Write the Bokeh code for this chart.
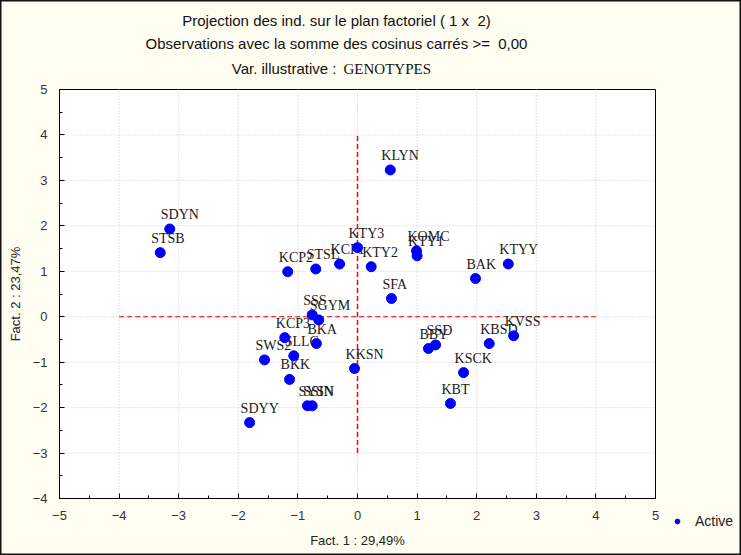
from bokeh.plotting import figure
from bokeh.models import (FixedTicker, ColumnDataSource, Range1d, Label, Legend, LegendItem)
from bokeh.core.properties import value
from bokeh.embed import file_html
from bokeh.resources import INLINE

names = ["KLYN", "SDYN", "STSB", "KCP2", "STSL", "KCP1", "KTY3", "KTY2", "KOMC", "KTY1",
         "BAK", "KTYY", "SFA", "SSS", "SGYM", "KCP3", "BKA", "SLLC", "SWS2", "BKK",
         "KKSN", "SYSN", "SSIN", "SDYY", "BBY", "SSD", "KBSD", "KVSS", "KSCK", "KBT"]
fact1 = [0.55, -3.15, -3.31, -1.17, -0.70, -0.30, 0.00, 0.23, 0.99, 1.00,
         1.98, 2.53, 0.57, -0.76, -0.65, -1.22, -0.69, -1.07, -1.56, -1.14,
         -0.05, -0.84, -0.76, -1.81, 1.19, 1.31, 2.21, 2.62, 1.78, 1.56]
fact2 = [3.23, 1.93, 1.41, 0.99, 1.05, 1.16, 1.52, 1.10, 1.45, 1.34,
         0.84, 1.16, 0.40, 0.04, -0.07, -0.46, -0.59, -0.86, -0.95, -1.38,
         -1.14, -1.96, -1.96, -2.33, -0.70, -0.62, -0.59, -0.42, -1.23, -1.91]

x_ticks = [-5, -4, -3, -2, -1, 0, 1, 2, 3, 4, 5]
y_ticks = [-4, -3, -2, -1, 0, 1, 2, 3, 4, 5]
title_line1 = "Projection des ind. sur le plan factoriel (\u00a01 x \u00a02)"
title_line2 = "Observations avec la somme des cosinus carrés >=\u00a0 0,00"
title_line3_head = "Var. illustrative :"
title_line3_var = "GENOTYPES"
x_label = "Fact. 1 : 29,49%"
y_label = "Fact. 2 : 23,47%"
legend_label = "Active"

# ---- layout (pixels) ----
W, H = 741, 555
PL, PR, PT, PB = 59, 655, 89, 498          # plot-area box on the canvas
xmin, xmax = x_ticks[0], x_ticks[-1]
ymin, ymax = y_ticks[0], y_ticks[-1]
sx = (PR - PL) / (xmax - xmin)
sy = (PB - PT) / (ymax - ymin)
x_rng = Range1d(xmin - PL / sx, xmax + (W - PR) / sx)
y_rng = Range1d(ymin - (H - PB) / sy, ymax + PT / sy)

p = figure(width=W, height=H, output_backend="svg", toolbar_location=None,
           x_range=x_rng, y_range=y_rng,
           min_border_left=0, min_border_right=0, min_border_top=0, min_border_bottom=0)
p.background_fill_color = "#FFFDF2"
p.border_fill_color = "#FFFDF2"
p.outline_line_color = "#111111"
p.outline_line_width = 2
p.grid.visible = False

# white plot area with black frame
p.quad(left=[xmin], right=[xmax], bottom=[ymin], top=[ymax],
       fill_color="white", line_color="black", line_width=1)

# dotted grid at the ticks
p.segment(x0=x_ticks[1:-1], y0=[ymin] * (len(x_ticks) - 2), x1=x_ticks[1:-1], y1=[ymax] * (len(x_ticks) - 2),
          line_color="#c8c8c8", line_dash="1 2", line_width=1)
p.segment(x0=[xmin] * (len(y_ticks) - 2), y0=y_ticks[1:-1], x1=[xmax] * (len(y_ticks) - 2), y1=y_ticks[1:-1],
          line_color="#c8c8c8", line_dash="1 2", line_width=1)

# axes drawn at the edges of the plot area
xa, ya = p.xaxis[0], p.yaxis[0]
xa.fixed_location = ymin
xa.bounds = (xmin, xmax)
ya.fixed_location = xmin
ya.bounds = (ymin, ymax)
for ax in (xa, ya):
    ax.axis_line_color = "black"
    ax.major_tick_in = 5
    ax.major_tick_out = 0
    ax.minor_tick_in = 3
    ax.minor_tick_out = 0
    ax.major_tick_line_color = "black"
    ax.minor_tick_line_color = "black"
    ax.major_label_text_font = "Liberation Sans"
    ax.major_label_text_font_size = "13px"
    ax.major_label_text_color = "#333333"
    ax.axis_label_text_font = "Liberation Sans"
    ax.axis_label_text_font_size = "13px"
    ax.axis_label_text_font_style = "normal"
    ax.axis_label_text_color = "#222222"
xa.ticker = FixedTicker(ticks=x_ticks, minor_ticks=[t + 0.5 for t in x_ticks[:-1]])
ya.ticker = FixedTicker(ticks=y_ticks, minor_ticks=[t + 0.5 for t in y_ticks[:-1]])
xa.axis_label = x_label
ya.axis_label = y_label
xa.major_label_standoff = 12
ya.major_label_standoff = 12
xa.axis_label_standoff = 10
ya.axis_label_standoff = 7

# reference cross at origin
p.line(x=[0, 0], y=[-3, 4], line_color="#ff0000", line_dash="5 3", line_width=1.5)
p.line(x=[-4, 4], y=[0, 0], line_color="#ff0000", line_dash="5 3", line_width=1)

src = ColumnDataSource(dict(x=fact1, y=fact2, name=names))
p.text(x="x", y="y", text="name", source=src, x_offset=-9, y_offset=-7,
       text_baseline="bottom", text_align="left",
       text_font=value("Liberation Serif"), text_font_size="14px", text_color="#1a1a1a")
pts = p.scatter(x="x", y="y", source=src, size=10, fill_color="#0000ff", line_color="#0000ff")

# titles (screen units from the bottom-left corner)
def title_label(text, x, cy, align, font):
    p.add_layout(Label(x=x, y=H - cy, x_units="screen", y_units="screen", text=text,
                       text_align=align, text_baseline="middle",
                       text_font=font, text_font_size="15px", text_color="#111111"))

title_label(title_line1, 336, 20, "center", "Liberation Sans")
title_label(title_line2, 336, 43, "center", "Liberation Sans")
title_label(title_line3_head, 336, 68, "right", "Liberation Sans")
title_label(title_line3_var, 343, 68, "left", "Liberation Serif")

legend = Legend(items=[LegendItem(label=legend_label, renderers=[pts])],
                location=(671, H - 529), padding=0, margin=0, spacing=0,
                glyph_width=12, glyph_height=12, label_standoff=12,
                label_text_font="Liberation Sans", label_text_font_size="14px",
                label_text_color="#222222", border_line_color=None,
                background_fill_alpha=0)
p.add_layout(legend)

open("out.html", "w").write(file_html(p, INLINE))
